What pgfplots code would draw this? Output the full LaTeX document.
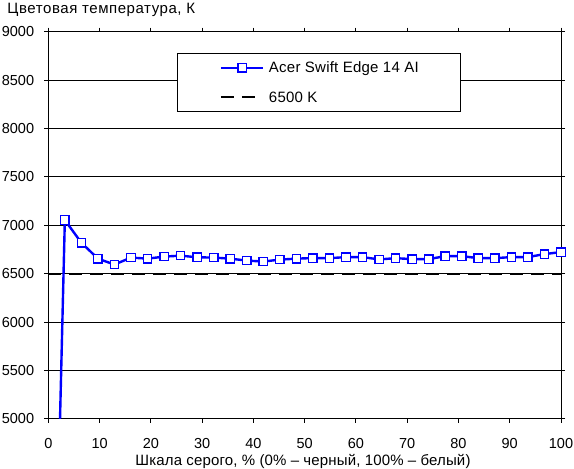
\documentclass[border=0pt]{standalone}
\usepackage{pgfplots}
\pgfplotsset{compat=1.18}
\usepackage{fontspec}
\setmainfont{Liberation Sans}
\definecolor{serblue}{RGB}{0,0,255}
\pgfplotsset{
  legA/.style={legend image code/.code={\draw[mark repeat=2,mark phase=2,##1] plot coordinates {(0pt,0pt) (21.35pt,0pt) (42.7pt,0pt)};}},
  legB/.style={legend image code/.code={\draw[##1] (0pt,0pt) -- (34pt,0pt); \path (42.7pt,0pt);}},
}
\begin{document}
\fontsize{14}{16}\selectfont
\begin{tikzpicture}
\begin{axis}[
  at={(0pt,0pt)}, anchor=south west,
  scale only axis, width=512.7pt, height=387.3pt,
  xmin=0, xmax=100, ymin=5000, ymax=9000,
  xtick={0,10,...,100}, ytick={5000,5500,...,9000},
  tick align=outside, major tick length=4pt,
  tick style={black, line width=1pt},
  axis line style={black, line width=1pt},
  ymajorgrids, grid style={black, line width=1pt},
  /pgf/number format/assume math mode=true,
  /pgf/number format/1000 sep={},
  tick label style={font=\fontsize{14.5}{16}\selectfont},
  yticklabel style={anchor=east, inner sep=0pt, xshift=-10pt},
  xticklabel style={anchor=base, inner sep=0pt, yshift=-26pt},
  clip marker paths=false,
  legend style={at={(0.2516,0.9458)}, anchor=north west, draw=black, line width=1.2pt,
    inner xsep=41.7pt, inner ysep=9.6pt, row sep=19.4pt, column sep=4.3pt,
    font=\fontsize{15}{17}\selectfont\addfontfeatures{LetterSpace=1.6},
    nodes={inner sep=0pt, text height=10pt, text depth=0pt, anchor=west}},
  legend cell align=left,
]
\addplot[serblue, line width=2.4pt, mark=square*, mark size=4.2pt,
  mark options={solid, fill=white, draw=serblue, line width=1.3pt}, legA]
coordinates {
(0,0) (3.2258,7055) (6.4516,6820) (9.6774,6656) (12.9032,6595)
(16.1290,6667) (19.3548,6656) (22.5806,6677) (25.8065,6687)
(29.0323,6670) (32.2581,6667) (35.4839,6656) (38.7097,6636)
(41.9355,6626) (45.1613,6646) (48.3871,6656) (51.6129,6662)
(54.8387,6661) (58.0645,6672) (61.2903,6672) (64.5161,6648)
(67.7419,6661) (70.9677,6651) (74.1935,6651) (77.4194,6682)
(80.6452,6682) (83.8710,6661) (87.0968,6661) (90.3226,6672)
(93.5484,6672) (96.7742,6703) (100,6724)
};
\addlegendentry{Acer Swift Edge 14 AI}
\addplot[black, line width=2pt, dash pattern=on 13pt off 8pt, legB]
coordinates {(0,6500) (100,6500)};
\addlegendentry{6500 K}
\end{axis}
\node[anchor=base west, inner sep=0pt, font=\fontsize{15}{17}\selectfont\addfontfeatures{LetterSpace=3.7}] at (-41pt,405.5pt) {Цветовая температура, К};
\node[anchor=base, inner sep=0pt, font=\fontsize{15}{17}\selectfont\addfontfeatures{LetterSpace=1}] at (254.7pt,-46.3pt) {Шкала серого, \% (0\% – черный, 100\% – белый)};
\pgfresetboundingbox
\path (-48.3pt,-50pt) rectangle (525.7pt,419pt);
\end{tikzpicture}
\end{document}
